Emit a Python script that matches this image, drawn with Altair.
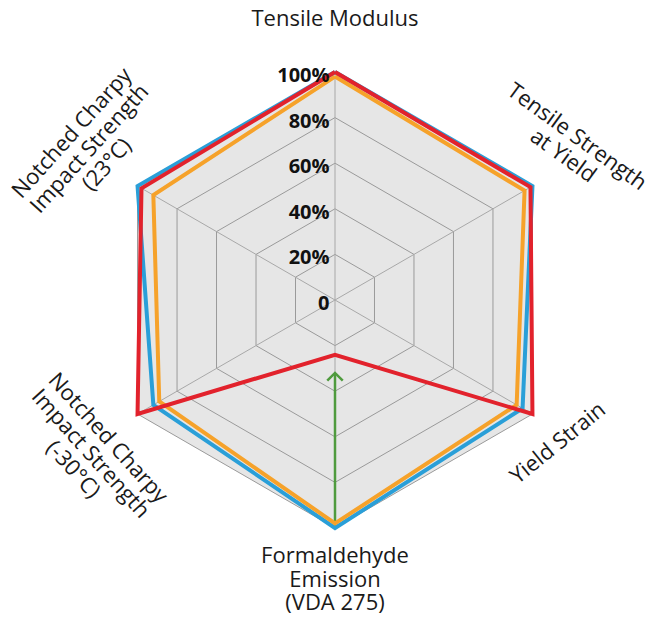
import altair as alt
import pandas as pd

# ---------------- data ----------------
axis_labels = [
    "Tensile Modulus",
    "Tensile Strength\nat Yield",
    "Yield Strain",
    "Formaldehyde\nEmission\n(VDA 275)",
    "Notched Charpy\nImpact Strength\n(-30°C)",
    "Notched Charpy\nImpact Strength\n(23°C)",
]
axis_angles = [90, 30, -30, -90, -150, 150]

series_names = ["Blue", "Orange", "Red"]
blue_values = [100, 100, 95, 100, 92, 100]
orange_values = [98, 96, 92, 98, 89, 92]
red_values = [100, 99, 100, 24, 100, 98]
series_colors = ["#2a9fd8", "#f6a22a", "#e2222c"]

green_start = 100   # arrow on Formaldehyde axis, from
green_end = 32      # to (arrow tip)

tick_values = [0, 20, 40, 60, 80, 100]
tick_labels = ["0", "20%", "40%", "60%", "80%", "100%"]

# label placement of first text line (radius in units of 100 %, direction in degrees, text rotation)
label_radius = [1.232, 1.280, 1.162, 1.123, 1.165, 1.366]
label_dir = [90, 34.0, -32.7, -90, -148.7, 147.6]
label_rot = [0, 36, 321, 0, 48, 312]

# ---------------- layout ----------------
W, H = 644, 609
CX, CY, R = 327, 292, 228
XD = [-CX / R, (W - CX) / R]
YD = [-(H - CY) / R, CY / R]

def X(field="x"):
    return alt.X(f"{field}:Q", scale=alt.Scale(domain=XD, nice=False, zero=False), axis=None)

def Y(field="y"):
    return alt.Y(f"{field}:Q", scale=alt.Scale(domain=YD, nice=False, zero=False), axis=None)

# ---------------- tables ----------------
rows = []
for name, vals in zip(series_names, [blue_values, orange_values, red_values]):
    for i in range(7):
        k = i % 6
        rows.append({"series": name, "idx": i, "value": vals[k], "angle": axis_angles[k]})
series_df = pd.DataFrame(rows)

ring_rows = []
for t in tick_values[1:]:
    for i in range(7):
        ring_rows.append({"ring": t, "idx": i, "value": t, "angle": axis_angles[i % 6]})
ring_df = pd.DataFrame(ring_rows)

spoke_df = pd.DataFrame({"angle": axis_angles, "value": [100] * 6})

fill_df = pd.DataFrame({"angle": [150, 90, 30], "value": [100, 100, 100]})

green_df = pd.DataFrame({"angle": [axis_angles[3]], "v1": [green_start], "v2": [green_end]})

tick_df = pd.DataFrame({"value": tick_values, "label": tick_labels})

label_df = pd.DataFrame({"label": axis_labels, "r": label_radius, "dir": label_dir, "rot": label_rot})

polar = dict(
    x="datum.value / 100 * cos(datum.angle * PI / 180)",
    y="datum.value / 100 * sin(datum.angle * PI / 180)",
)

# ---------------- layers ----------------
fill = alt.Chart(fill_df).transform_calculate(
    x="datum.value / 100 * cos(datum.angle * PI / 180)",
    y="datum.value / 100 * sin(datum.angle * PI / 180)",
    y2="-datum.value / 100 * sin(datum.angle * PI / 180)",
).mark_area(color="#e6e6e6", opacity=1).encode(x=X(), y=Y(), y2="y2:Q")

rings = alt.Chart(ring_df).transform_calculate(**polar).mark_line(
    color="#9a9a9a", strokeWidth=1
).encode(x=X(), y=Y(), detail="ring:N", order="idx:Q")

spokes = alt.Chart(spoke_df).transform_calculate(
    x0="0", y0="0", **polar
).mark_rule(color="#a8a8a8", strokeWidth=1).encode(x=X("x0"), y=Y("y0"), x2="x:Q", y2="y:Q")

green = alt.Chart(green_df).transform_calculate(
    x="datum.v1 / 100 * cos(datum.angle * PI / 180)",
    y="datum.v1 / 100 * sin(datum.angle * PI / 180)",
    y2="datum.v2 / 100 * sin(datum.angle * PI / 180)",
).mark_rule(color="#4f9b3e", strokeWidth=2.5, strokeCap="butt").encode(x=X(), y=Y(), y2="y2:Q")

arrow = alt.Chart(green_df).transform_calculate(
    x="datum.v2 / 100 * cos(datum.angle * PI / 180)",
    y="datum.v2 / 100 * sin(datum.angle * PI / 180)",
).mark_point(
    shape="M-1,1L0,0L1,1", size=240, filled=False, color="#4f9b3e", strokeWidth=2.5, opacity=1
).encode(x=X(), y=Y())

lines = alt.Chart(series_df).transform_calculate(**polar).mark_line(
    strokeWidth=4, strokeJoin="miter"
).encode(
    x=X(), y=Y(), order="idx:Q",
    color=alt.Color("series:N", scale=alt.Scale(domain=series_names, range=series_colors), legend=None),
)

ticks = alt.Chart(tick_df).transform_calculate(
    x="-0.024", y="datum.value / 100"
).mark_text(
    align="right", baseline="middle", dy=4, font="Open Sans", fontWeight="bold", fontSize=20, color="#111"
).encode(x=X(), y=Y(), text="label:N")

labels = alt.Chart(label_df).transform_calculate(
    x="datum.r * cos(datum.dir * PI / 180)",
    y="datum.r * sin(datum.dir * PI / 180)",
).mark_text(
    align="center", baseline="middle", font="Open Sans", fontSize=22, lineHeight=23.5,
    lineBreak="\n", color="#1a1a1a"
).encode(x=X(), y=Y(), text="label:N", angle=alt.Angle("rot:Q", scale=None))

chart = alt.layer(fill, rings, spokes, green, lines, arrow, ticks, labels).properties(
    width=W, height=H, padding=0, autosize=alt.AutoSizeParams(type="none")
).configure_view(stroke=None)

chart.save("out.html", embed_options={"renderer": "svg", "actions": False})
